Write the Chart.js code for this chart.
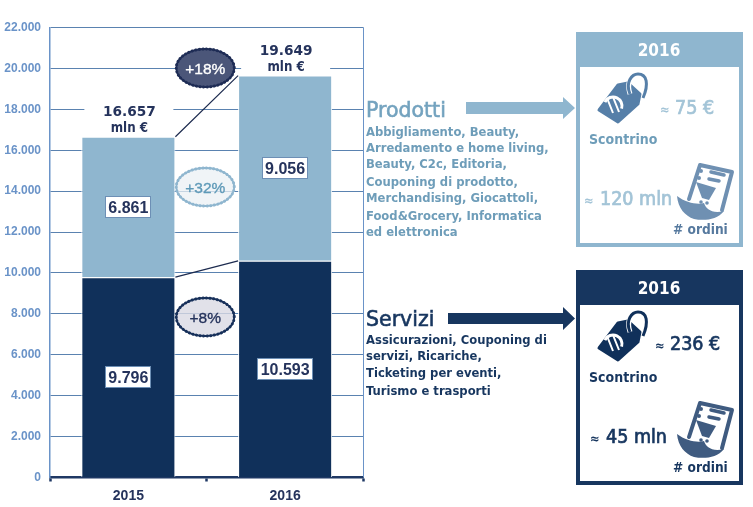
<!DOCTYPE html>
<html lang="it">
<head>
<meta charset="utf-8">
<title>E-commerce 2015-2016</title>
<script src="https://cdn.jsdelivr.net/npm/chart.js@4"></script>
<style>
html, body { margin: 0; padding: 0; background: #fff; }
#wrap { width: 753px; height: 507px; position: relative; }
</style>
</head>
<body>
<div id="wrap"><canvas id="chart" width="753" height="507"></canvas></div>
<script>
"use strict";

// Dati
const years = ["2015", "2016"];
const servizi = [9796, 10593];
const prodotti = [6861, 9056];
const servizLabels = ["9.796", "10.593"];
const prodottiLabels = ["6.861", "9.056"];
const totals = [16657, 19649];
const totalLabels = ["16.657", "19.649"];
const yTicks = ["0", "2.000", "4.000", "6.000", "8.000", "10.000", "12.000", "14.000", "16.000", "18.000", "20.000", "22.000"];
const prodottiText = ["Abbigliamento, Beauty,", "Arredamento e home living,", "Beauty, C2c, Editoria,", "Couponing di prodotto,", "Merchandising, Giocattoli,", "Food&Grocery, Informatica", "ed elettronica"];
const prodottiLineY = [136, 152, 168, 186, 202, 220, 236];
const serviziText = ["Assicurazioni, Couponing di", "servizi, Ricariche,", "Ticketing per eventi,", "Turismo e trasporti"];
const serviziLineY = [344, 360, 377, 395];

const LIGHT = "#8fb6cf";
const DARK = "#10305a";
const NAVY = "#17365f";
const SANS = "'Liberation Sans', Arial, sans-serif";
const SIDE = "'DejaVu Sans Condensed', 'DejaVu Sans', sans-serif";

function text(ctx, str, x, y, font, color, align, weight) {
    ctx.font = font;
    ctx.fillStyle = color;
    ctx.textAlign = align || "left";
    ctx.textBaseline = "alphabetic";
    ctx.fillText(str, x, y);
    // contorno sottile per ispessire il testo
    if (weight) {
        ctx.save();
        ctx.strokeStyle = color;
        ctx.lineWidth = weight;
        ctx.setLineDash([]);
        ctx.strokeText(str, x, y);
        ctx.restore();
    }
}

// Ovale con bordo smerlato
function badge(ctx, cx, cy, fill, border, label, color) {
    ctx.save();
    ctx.beginPath();
    ctx.ellipse(cx, cy, 29, 19, 0, 0, Math.PI * 2);
    ctx.fillStyle = fill;
    ctx.fill();
    ctx.strokeStyle = border;
    ctx.lineWidth = 1.8;
    ctx.stroke();
    ctx.lineCap = "round";
    ctx.lineWidth = 3;
    ctx.setLineDash([0.1, 3.5]);
    ctx.stroke();
    ctx.restore();
    text(ctx, label, cx, cy + 6, "15.5px " + SANS, color, "center", 0.35);
}

function arrow(ctx, x0, x1, yc, color, shaft, head) {
    ctx.fillStyle = color;
    ctx.beginPath();
    ctx.moveTo(x0, yc - shaft);
    ctx.lineTo(x1 - 12, yc - shaft);
    ctx.lineTo(x1 - 12, yc - head);
    ctx.lineTo(x1, yc);
    ctx.lineTo(x1 - 12, yc + head);
    ctx.lineTo(x1 - 12, yc + shaft);
    ctx.lineTo(x0, yc + shaft);
    ctx.closePath();
    ctx.fill();
}

// Etichetta del prezzo, ox/oy = angolo del riquadro
function tagIcon(ctx, ox, oy, color) {
    ctx.save();
    ctx.translate(ox, oy);
    ctx.fillStyle = color;
    ctx.strokeStyle = color;
    ctx.lineJoin = "round";
    ctx.lineWidth = 3;
    ctx.beginPath();
    ctx.moveTo(23, 78);
    ctx.lineTo(42, 53);
    ctx.lineTo(52, 51);
    ctx.lineTo(64, 62);
    ctx.lineTo(62, 72);
    ctx.lineTo(42, 90);
    ctx.closePath();
    ctx.fill();
    ctx.stroke();
    // anello
    ctx.strokeStyle = "#fff";
    ctx.lineWidth = 5;
    ctx.beginPath();
    ctx.moveTo(54, 62);
    ctx.bezierCurveTo(50, 50, 56, 44, 60, 43);
    ctx.stroke();
    ctx.strokeStyle = color;
    ctx.lineWidth = 3;
    ctx.beginPath();
    ctx.moveTo(54, 62);
    ctx.bezierCurveTo(49, 50, 56, 42, 62, 42);
    ctx.bezierCurveTo(71, 42, 73, 52, 67, 66);
    ctx.stroke();
    // euro
    ctx.strokeStyle = "#fff";
    ctx.lineWidth = 3;
    ctx.lineJoin = "miter";
    ctx.beginPath();
    ctx.arc(37, 74, 9, -2.7, 0.3);
    ctx.stroke();
    ctx.lineWidth = 2;
    ctx.beginPath();
    ctx.moveTo(31, 66);
    ctx.lineTo(37, 81);
    ctx.moveTo(37, 65);
    ctx.lineTo(43, 80);
    ctx.stroke();
    ctx.restore();
}

// Icona dello scontrino con carrello
function receiptIcon(ctx, ox, oy, color) {
    ctx.save();
    ctx.translate(ox, oy);
    ctx.strokeStyle = color;
    ctx.fillStyle = color;
    ctx.lineJoin = "round";
    ctx.lineCap = "round";
    ctx.lineWidth = 4;
    ctx.beginPath();
    ctx.moveTo(113, 167);
    ctx.lineTo(124, 133);
    ctx.lineTo(156, 140);
    ctx.lineTo(146, 178);
    ctx.stroke();
    // parte arricciata
    ctx.beginPath();
    ctx.moveTo(101, 164);
    ctx.bezierCurveTo(110, 171, 122, 173, 128, 171);
    ctx.bezierCurveTo(130, 177, 136, 182, 148, 179);
    ctx.bezierCurveTo(141, 188, 128, 189, 118, 187);
    ctx.bezierCurveTo(109, 184, 102, 176, 101, 164);
    ctx.closePath();
    ctx.fill();
    // righe
    ctx.lineWidth = 3.5;
    ctx.beginPath();
    ctx.moveTo(135, 140);
    ctx.lineTo(148, 143);
    ctx.moveTo(133, 147);
    ctx.lineTo(143, 149);
    ctx.stroke();
    ctx.beginPath();
    ctx.arc(125, 139, 2, 0, Math.PI * 2);
    ctx.arc(123, 146, 2, 0, Math.PI * 2);
    ctx.fill();
    // carrello
    ctx.beginPath();
    ctx.moveTo(120, 150);
    ctx.lineTo(140, 156);
    ctx.lineTo(133, 168);
    ctx.lineTo(126, 166);
    ctx.closePath();
    ctx.fill();
    ctx.beginPath();
    ctx.arc(125, 170, 1.8, 0, Math.PI * 2);
    ctx.arc(131, 171, 1.8, 0, Math.PI * 2);
    ctx.fill();
    ctx.restore();
}

function panel(ctx, oy, color, o) {
    const ox = 576;
    ctx.fillStyle = color;
    ctx.fillRect(ox, oy, 167, 215);
    ctx.fillStyle = "#fff";
    ctx.fillRect(ox + 4, oy + 35, 159, 176);
    text(ctx, "2016", ox + 83, oy + 24, "bold 17px " + SIDE, "#fff", "center");
    tagIcon(ctx, ox, oy, o.tag);
    receiptIcon(ctx, ox, oy, o.cart);
    text(ctx, "≈", o.amountX - 15, oy + o.amountY, "bold 13px " + SIDE, o.text);
    text(ctx, o.amount, o.amountX, oy + o.amountY, "19.5px " + SIDE, o.text, "left", 0.7);
    text(ctx, "Scontrino", ox + 13, oy + 112, "bold 14px " + SIDE, o.label);
    text(ctx, "≈", o.ordersX - 16, oy + 173, "bold 13px " + SIDE, o.text);
    text(ctx, o.orders, o.ordersX, oy + 173, "19.5px " + SIDE, o.text, "left", 0.7);
    text(ctx, "# ordini", ox + 97, oy + 202, "bold 13.6px " + SIDE, o.ordersColor);
}

const overlay = {
    id: "overlay",
    beforeDatasetsDraw(chart) {
        const { ctx, chartArea } = chart;
        // bordo destro dell'area
        ctx.save();
        ctx.strokeStyle = "#6a93c8";
        ctx.lineWidth = 1;
        ctx.beginPath();
        ctx.moveTo(chartArea.right, chartArea.top);
        ctx.lineTo(chartArea.right, chartArea.bottom);
        ctx.stroke();
        ctx.restore();
    },
    afterDatasetsDraw(chart) {
        const { ctx, scales } = chart;
        const y = scales.y;
        const base = chart.getDatasetMeta(0).data;
        const top = chart.getDatasetMeta(1).data;
        ctx.save();

        // linee di collegamento tra le colonne
        ctx.strokeStyle = "#1d2b4f";
        ctx.lineWidth = 1.2;
        ctx.beginPath();
        ctx.moveTo(top[0].x + top[0].width / 2, y.getPixelForValue(totals[0]));
        ctx.lineTo(top[1].x - top[1].width / 2, y.getPixelForValue(totals[1]));
        ctx.moveTo(base[0].x + base[0].width / 2, y.getPixelForValue(servizi[0]));
        ctx.lineTo(base[1].x - base[1].width / 2, y.getPixelForValue(servizi[1]));
        ctx.stroke();

        // etichette dei valori nelle colonne
        const boxes = [
            [base, servizLabels, servizi, i => 0],
            [top, prodottiLabels, prodotti, i => servizi[i]]
        ];
        ctx.lineWidth = 1;
        boxes.forEach(([bars, labels, values, start]) => {
            bars.forEach((bar, i) => {
                const yc = y.getPixelForValue(start(i) + values[i] / 2);
                const w = labels[i].length > 5 ? 56 : 46;
                ctx.fillStyle = "#fff";
                ctx.fillRect(Math.round(bar.x - w / 2), Math.round(yc - 11), w, 22);
                ctx.strokeStyle = "#6d8fb5";
                ctx.strokeRect(Math.round(bar.x - w / 2) + 0.5, Math.round(yc - 11) + 0.5, w - 1, 21);
                text(ctx, labels[i], bar.x, yc + 6, "bold 16px " + SANS, "#25335c", "center");
            });
        });

        // totali sopra le colonne
        top.forEach((bar, i) => {
            const yTop = y.getPixelForValue(totals[i]);
            ctx.fillStyle = "#fff";
            ctx.fillRect(bar.x - 44, yTop - 36, 89, 35);
            text(ctx, totalLabels[i], bar.x + 1, yTop - 21, "bold 13.7px 'DejaVu Sans', sans-serif", "#25335c", "center");
            text(ctx, "mln €", bar.x + 1, yTop - 5, "bold 13.2px 'DejaVu Sans Condensed', sans-serif", "#25335c", "center");
        });

        // variazioni percentuali
        const midX = (top[0].x + top[1].x) / 2 - 1.5;
        badge(ctx, midX, 68, "#4b5679", "#1e2c55", "+18%", "#fff");
        badge(ctx, midX, 187, "rgba(235,240,244,0.75)", "#8fb6cf", "+32%", "#5f9ab8");
        badge(ctx, midX, 317, "rgba(217,218,228,0.8)", "#17305a", "+8%", "#25335c");

        // colonna di destra
        text(ctx, "Prodotti", 366, 117, "20.5px 'DejaVu Sans', sans-serif", "#74a3bf", "left", 0.6);
        prodottiText.forEach((line, i) => {
            text(ctx, line, 366, prodottiLineY[i], "bold 12.9px " + SIDE, "#6e9db9");
        });
        arrow(ctx, 466, 575, 108, LIGHT, 6, 11);

        text(ctx, "Servizi", 366, 326, "20.5px 'DejaVu Sans', sans-serif", NAVY, "left", 0.6);
        serviziText.forEach((line, i) => {
            text(ctx, line, 366, serviziLineY[i], "bold 12.9px " + SIDE, NAVY);
        });
        arrow(ctx, 448, 575, 318.5, NAVY, 5.5, 11.5);

        panel(ctx, 32, LIGHT, { text: "#a3c4d7", tag: "#567fa8", cart: "#6f90b2", label: "#6e9db9", ordersColor: "#56799e",
            amount: "75 €", amountX: 675, amountY: 82, orders: "120 mln", ordersX: 600 });
        panel(ctx, 270, NAVY, { text: NAVY, tag: "#10305a", cart: "#3f5b80", label: NAVY, ordersColor: NAVY,
            amount: "236 €", amountX: 670, amountY: 80, orders: "45 mln", ordersX: 606 });
        ctx.restore();
    }
};

new Chart(document.getElementById("chart"), {
    type: "bar",
    data: {
        labels: years,
        datasets: [
            { label: "Servizi", data: servizi, backgroundColor: DARK, borderColor: "#fff", borderWidth: 1, stack: "a" },
            { label: "Prodotti", data: prodotti, backgroundColor: LIGHT, borderColor: "#fff", borderWidth: 1, stack: "a" }
        ]
    },
    options: {
        responsive: false,
        animation: false,
        categoryPercentage: 0.6,
        barPercentage: 1,
        layout: { padding: { top: 27.5, right: 389.5, bottom: 0, left: 0 } },
        plugins: { legend: { display: false }, tooltip: { enabled: false } },
        scales: {
            x: {
                stacked: true,
                afterFit(scale) { scale.height = 29.5; },
                border: { color: "#1f3864", width: 2.5 },
                grid: { drawOnChartArea: false, color: "#1f3864", tickLength: 4, tickWidth: 2.5 },
                ticks: { color: "#25335c", font: { family: SANS, size: 14, weight: "bold" }, padding: 6 }
            },
            y: {
                stacked: true,
                min: 0,
                max: 22000,
                afterFit(scale) { scale.width = 50; },
                border: { color: "#6a93c8", width: 1.5 },
                grid: { color: "#5a82b0", lineWidth: 1, drawTicks: false },
                ticks: {
                    stepSize: 2000,
                    padding: 9,
                    color: "#6a93c8",
                    font: { family: SANS, size: 12, weight: "bold" },
                    callback: (value) => yTicks[value / 2000]
                }
            }
        }
    },
    plugins: [overlay]
});
</script>
</body>
</html>
